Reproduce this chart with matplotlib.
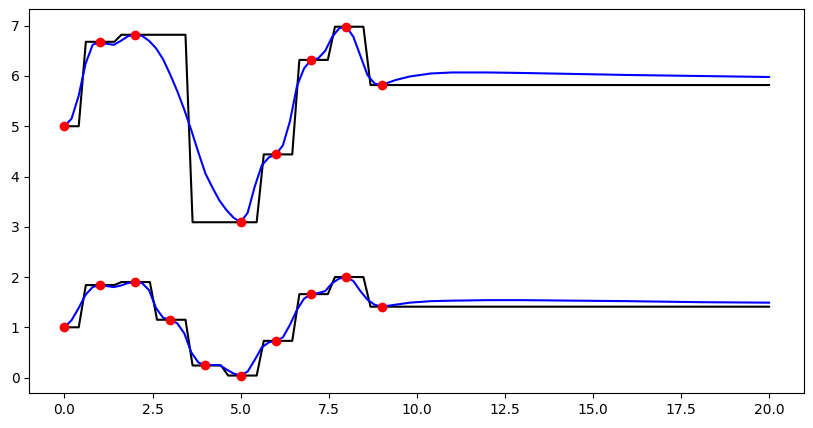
"""Sampled points with nearest-step and smooth reconstructions (two series)."""

import matplotlib

matplotlib.use("Agg")

import matplotlib.pyplot as plt  # noqa: E402

# sample points (red dots)
upper_pts_x = [0, 1, 2, 5, 6, 7, 8, 9]
upper_pts_y = [5.00, 6.68, 6.82, 3.09, 4.44, 6.32, 6.98, 5.82]
lower_pts_x = [0, 1, 2, 3, 4, 5, 6, 7, 8, 9]
lower_pts_y = [1.00, 1.84, 1.90, 1.15, 0.24, 0.04, 0.73, 1.66, 2.00, 1.41]

# nearest-neighbour step line (black), corner points
upper_step_x = [0, 0.404, 0.606, 1.414, 1.616, 3.434, 3.636, 5.455, 5.657,
                6.465, 6.667, 7.475, 7.677, 8.485, 8.687, 20]
upper_step_y = [5.00, 5.00, 6.68, 6.68, 6.82, 6.82, 3.09, 3.09, 4.44,
                4.44, 6.32, 6.32, 6.98, 6.98, 5.82, 5.82]
lower_step_x = [0, 0.404, 0.606, 1.414, 1.616, 2.424, 2.626, 3.434, 3.636,
                4.444, 4.646, 5.455, 5.657, 6.465, 6.667, 7.475, 7.677,
                8.485, 8.687, 20]
lower_step_y = [1.00, 1.00, 1.84, 1.84, 1.90, 1.90, 1.15, 1.15, 0.24,
                0.24, 0.04, 0.04, 0.73, 0.73, 1.66, 1.66, 2.00,
                2.00, 1.41, 1.41]

# smooth reconstruction (blue)
smooth_x = [0.0, 0.2, 0.4, 0.6, 0.8, 1.0, 1.2, 1.4, 1.6, 1.8,
            2.0, 2.2, 2.4, 2.6, 2.8, 3.0, 3.2, 3.4, 3.6, 3.8,
            4.0, 4.2, 4.4, 4.6, 4.8, 5.0, 5.2, 5.4, 5.6, 5.8,
            6.0, 6.2, 6.4, 6.6, 6.8, 7.0, 7.2, 7.4, 7.6, 7.8,
            8.0, 8.2, 8.4, 8.6, 8.8, 9.0, 9.4, 9.8, 10.4, 11.0,
            12.0, 13.0, 14.5, 16.0, 18.0, 20.0]
upper_smooth = [5.00, 5.15, 5.60, 6.25, 6.62, 6.68, 6.64, 6.62, 6.70, 6.79,
                6.82, 6.80, 6.70, 6.55, 6.33, 6.03, 5.70, 5.33, 4.92, 4.48,
                4.06, 3.78, 3.52, 3.33, 3.18, 3.09, 3.28, 3.80, 4.22, 4.38,
                4.44, 4.62, 5.10, 5.80, 6.15, 6.32, 6.35, 6.50, 6.78, 6.95,
                6.98, 6.78, 6.40, 6.02, 5.85, 5.82, 5.92, 5.99, 6.05, 6.07,
                6.07, 6.06, 6.04, 6.02, 6.00, 5.98]
lower_smooth = [1.00, 1.14, 1.38, 1.65, 1.80, 1.84, 1.82, 1.80, 1.83, 1.88,
                1.90, 1.88, 1.74, 1.38, 1.19, 1.15, 1.08, 0.88, 0.50, 0.30,
                0.24, 0.25, 0.25, 0.16, 0.08, 0.04, 0.12, 0.35, 0.60, 0.70,
                0.73, 0.80, 1.05, 1.35, 1.57, 1.66, 1.68, 1.72, 1.88, 1.97,
                2.00, 1.92, 1.72, 1.55, 1.45, 1.41, 1.45, 1.49, 1.52, 1.53,
                1.54, 1.54, 1.53, 1.52, 1.50, 1.49]

fig, ax = plt.subplots(figsize=(8.13, 4.28), dpi=100)
fig.subplots_adjust(left=0.036, right=0.9893, top=0.9783, bottom=0.0818)

for sx, sy, px, py, smooth in (
    (upper_step_x, upper_step_y, upper_pts_x, upper_pts_y, upper_smooth),
    (lower_step_x, lower_step_y, lower_pts_x, lower_pts_y, lower_smooth),
):
    ax.plot(sx, sy, color="black", lw=1.5)
    ax.plot(smooth_x, smooth, color="blue", lw=1.5)
    ax.plot(px, py, "o", color="red", ms=6)

fig.savefig("out.png", dpi=100)
plt.close(fig)
